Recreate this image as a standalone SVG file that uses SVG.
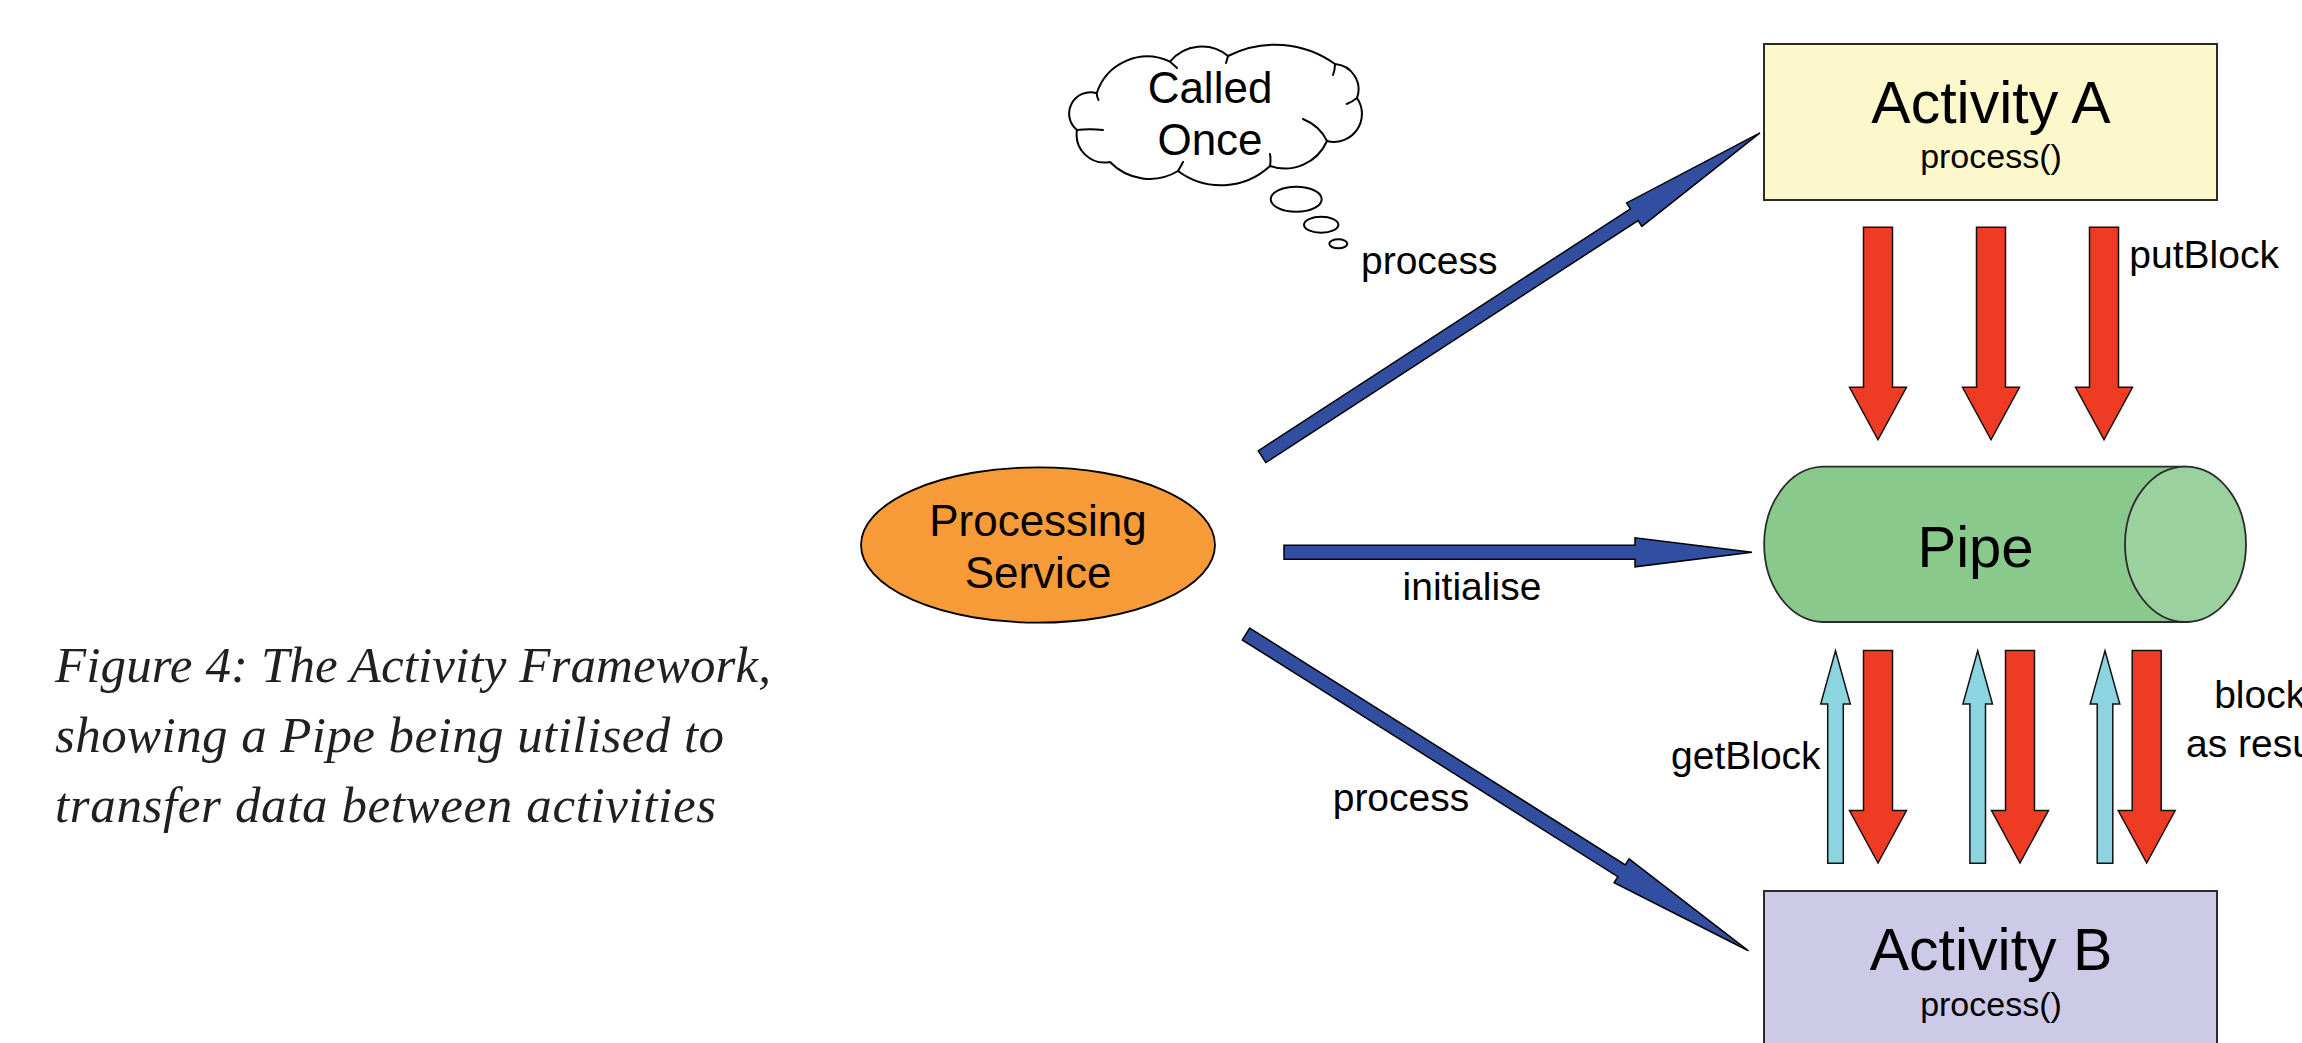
<svg xmlns="http://www.w3.org/2000/svg" width="2302" height="1043" viewBox="0 0 2302 1043">
  <defs>
    <style>
      .lbl { font-family: "Liberation Sans", Arial, sans-serif; font-size: 39px; fill: #000; }
      .title { font-family: "Liberation Sans", Arial, sans-serif; font-size: 59px; fill: #000; text-anchor: middle; }
      .sub { font-family: "Liberation Sans", Arial, sans-serif; font-size: 34px; fill: #000; text-anchor: middle; }
      .oval { font-family: "Liberation Sans", Arial, sans-serif; font-size: 44px; fill: #000; text-anchor: middle; }
      .caption { font-family: "Liberation Serif", "Times New Roman", serif; font-style: italic; font-size: 51px; fill: #231f20; }
      .box { stroke: #2b2b2b; stroke-width: 2; }
      .blue { fill: #324ea0; stroke: #000; stroke-width: 1.5; stroke-linejoin: miter; }
      .red { fill: #ee3b24; stroke: #111; stroke-width: 1.5; }
      .cyan { fill: #8cd4e0; stroke: #111; stroke-width: 1.5; }
    </style>
    <!-- vertical block arrows, drawn from their flat end -->
    <path id="downArrow" d="M-14.5,0 V160 H-28.5 L0,212.5 L28.5,160 H14.5 V0 Z"/>
    <path id="upArrow" d="M-7.8,0 V-159.3 H-14.8 L0,-212.6 L14.8,-159.3 H7.8 V0 Z"/>
  </defs>

  <rect width="2302" height="1043" fill="#ffffff"/>

  <!-- caption -->
  <g id="caption">
    <text class="caption" x="55" y="682" textLength="716" lengthAdjust="spacing">Figure 4: The Activity Framework,</text>
    <text class="caption" x="55" y="752" textLength="669" lengthAdjust="spacing">showing a Pipe being utilised to</text>
    <text class="caption" x="55" y="822" textLength="661" lengthAdjust="spacing">transfer data between activities</text>
  </g>

  <!-- thought bubble -->
  <g id="called-once">
    <path fill="#ffffff" stroke="#000" stroke-width="2" stroke-linejoin="round"
      d="M1096.7,93.3
         A53,53 0 0 1 1170,61.7
         A41,41 0 0 1 1228,56
         A103,103 0 0 1 1335,64
         A25.5,25.5 0 0 1 1357,98
         A28,28 0 0 1 1327,141
         A46,46 0 0 1 1270,166
         A72,72 0 0 1 1178,171
         A55,55 0 0 1 1110,162
         A28,28 0 0 1 1077,130
         A21.2,21.2 0 0 1 1096.7,93.3 Z"/>
    <path fill="none" stroke="#000" stroke-width="2" stroke-linecap="round"
      d="M1076.7,130 Q1090,128.5 1103,130
         M1096.7,93.3 Q1097,97 1098.5,100
         M1170,61.7 Q1174,65 1177,68
         M1228,56 Q1227,60 1226,63
         M1335,64 Q1335,70 1333,75
         M1357,98 Q1352,102 1346.7,104
         M1303,119 Q1320,126 1327,141
         M1270,166 Q1271,160 1270,154
         M1178,171 Q1181,166 1183,162"/>
    <ellipse cx="1296.2" cy="199.2" rx="25.5" ry="12.5" fill="#ffffff" stroke="#000" stroke-width="2"/>
    <ellipse cx="1321.2" cy="224.7" rx="17.2" ry="8" fill="#ffffff" stroke="#000" stroke-width="2"/>
    <ellipse cx="1338.3" cy="243.8" rx="9" ry="4.5" fill="#ffffff" stroke="#000" stroke-width="2"/>
    <text class="oval" x="1210" y="102.7">Called</text>
    <text class="oval" x="1210" y="155">Once</text>
  </g>

  <!-- Processing Service -->
  <g id="processing-service">
    <ellipse cx="1038" cy="545" rx="177" ry="77.7" fill="#f79a38" stroke="#000" stroke-width="1.8"/>
    <text class="oval" x="1038" y="535.7">Processing</text>
    <text class="oval" x="1038" y="588.3">Service</text>
  </g>

  <!-- Activity A -->
  <g id="activity-a">
    <rect class="box" x="1764" y="44" width="453" height="156" fill="#fcf8cc"/>
    <text class="title" x="1991" y="123.3">Activity A</text>
    <text class="sub" x="1991" y="168.3">process()</text>
  </g>

  <!-- Pipe -->
  <g id="pipe">
    <path d="M1822,466.7 H2185.5 A60.5,77.7 0 0 1 2185.5,622 H1822 A60,77.7 0 0 1 1822,466.7 Z"
      fill="#89c98b" stroke="#2b2b2b" stroke-width="1.8"/>
    <ellipse cx="2185.5" cy="544.3" rx="60.5" ry="77.7" fill="#9bd19e" stroke="#2b2b2b" stroke-width="1.8"/>
    <text class="title" x="1975.5" y="566.7" style="font-size:58px">Pipe</text>
  </g>

  <!-- Activity B -->
  <g id="activity-b">
    <rect class="box" x="1764" y="891" width="453" height="156" fill="#cccae6"/>
    <text class="title" x="1991" y="970.3">Activity B</text>
    <text class="sub" x="1991" y="1015.6">process()</text>
  </g>

  <!-- connectors -->
  <g id="connectors">
    <!-- Processing Service to Activity A -->
    <polygon class="blue" transform="translate(1262,456.7) rotate(-33.03)"
      points="0,-7 444,-7 444,-14 594,0 444,14 444,7 0,7"/>
    <!-- Processing Service to Pipe -->
    <polygon class="blue" transform="translate(1284,552.3)"
      points="0,-7 351,-7 351,-14.5 468,0 351,14.5 351,7 0,7"/>
    <!-- Processing Service to Activity B -->
    <polygon class="blue" transform="translate(1246,634) rotate(32.23)"
      points="0,-7 444,-7 444,-14 594,0 444,14 444,7 0,7"/>

    <!-- putBlock: Activity A into the Pipe -->
    <use href="#downArrow" class="red" transform="translate(1878,227.3)"/>
    <use href="#downArrow" class="red" transform="translate(1991,227.3)"/>
    <use href="#downArrow" class="red" transform="translate(2104,227.3)"/>

    <!-- getBlock requests and returned blocks between Pipe and Activity B -->
    <use href="#upArrow" class="cyan" transform="translate(1835.5,863.3)"/>
    <use href="#downArrow" class="red" transform="translate(1878,650.5)"/>
    <use href="#upArrow" class="cyan" transform="translate(1977.7,863.3)"/>
    <use href="#downArrow" class="red" transform="translate(2020,650.5)"/>
    <use href="#upArrow" class="cyan" transform="translate(2105,863.3)"/>
    <use href="#downArrow" class="red" transform="translate(2146.7,650.5)"/>

    <text class="lbl" x="1361" y="274">process</text>
    <text class="lbl" x="1402.6" y="600">initialise</text>
    <text class="lbl" x="1332.7" y="810.7">process</text>
    <text class="lbl" x="2129.3" y="268.3">putBlock</text>
    <text class="lbl" x="1671" y="769">getBlock</text>
    <text class="lbl" x="2259.7" y="708.3" text-anchor="middle">block</text>
    <text class="lbl" x="2259.7" y="756.7" text-anchor="middle">as result</text>
  </g>
</svg>
